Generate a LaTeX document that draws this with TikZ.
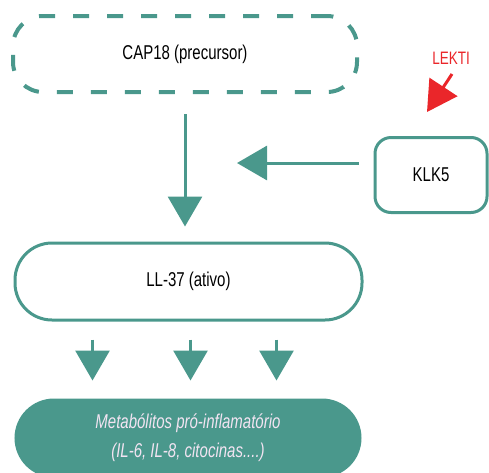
\documentclass[tikz,border=0pt]{standalone}
\usepackage{fontspec}
\setmainfont[FakeStretch=0.75]{Liberation Sans}
\usetikzlibrary{arrows.meta}
\definecolor{flowteal}{RGB}{74,152,140}
\definecolor{lektired}{RGB}{234,38,42}
\definecolor{palepink}{RGB}{242,228,242}
\begin{document}
\begin{tikzpicture}[x=1pt,y=-1pt,
    box/.style={draw=flowteal,line width=3pt,minimum width=344pt,minimum height=76pt,
      rounded corners=36pt,align=center,font=\fontsize{20}{29}\selectfont},
    flow/.style={draw=flowteal,line width=3pt,-{Triangle[width=34pt,length=30pt]}},
    inhib/.style={draw=lektired,line width=3pt,-{Triangle[width=33pt,length=30pt]}}]
        \useasboundingbox (0,0) rectangle (489,472);
        \clip (0,0) rectangle (489,472);
        %% boxes
        \node[box,line width=4pt,dash pattern=on 16pt off 18pt,rounded corners=30pt] (cap) at (185,54) {CAP18 (precursor)};
        \node[box,minimum width=347pt,minimum height=77pt,rounded corners=37pt] (ll) at (188.5,281.5) {LL-37 (ativo)};
        \node[box,minimum width=112pt,minimum height=75pt,rounded corners=16pt] (klk) at (431,175) {KLK5};
        \node[box,fill=flowteal,text=palepink,font=\fontsize{20}{29}\selectfont\itshape,rounded corners=38pt] (metab) at (188,438)
            {Metabólitos pró-inflamatório\\(IL-6, IL-8, citocinas....)};
        %% LEKTI
        \node[text=lektired,font=\fontsize{18}{20}\selectfont] (lekti) at (451,58) {LEKTI};
        \coordinate (lektistart) at (452,74);
        \coordinate (lektiend) at (427,112);
        \draw[inhib] (lektistart) -- (lektiend);
        %% arrows
        \draw[flow,shorten <=20pt,shorten >=15pt] (cap.south) -- (cap.south |- ll.north);
        \coordinate (cut) at (237,163);
        \draw[flow,shorten <=15pt] ([yshift=12pt]klk.west) -- (cut);
        \foreach \dx in {-96,2,88}
            \draw[flow,shorten <=18pt,shorten >=18pt] ([xshift=\dx pt]ll.south) -- ([xshift=\dx pt]ll.south |- metab.north);
    \end{tikzpicture}
\end{document}
